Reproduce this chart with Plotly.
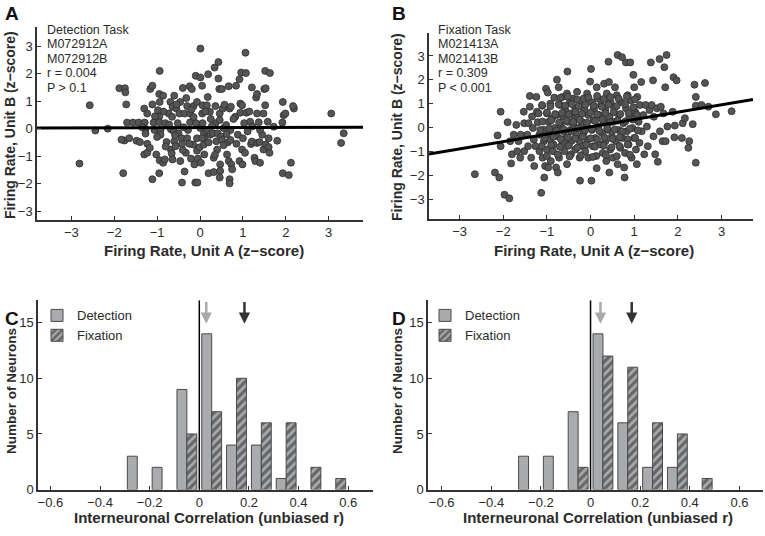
import plotly.graph_objects as go

# ---- panel A: detection task, unit pair M072912A/B ----
a_x = [-2.57, -2.81, -2.44, -2.15, -1.88, -1.75, -1.74, -1.72, -1.79, -1.70, -1.76, -1.65, -1.56, -1.43,
       -1.48, -1.40, -1.30, -1.29, -1.27, -1.27, -1.30, -1.23, -1.11, -1.16, -1.11, -1.23, -1.11, -1.23,
       -1.17, -1.08, -1.06, -1.02, -0.94, -0.95, -0.86, -0.94, -0.98, -0.95, -0.95, -0.92, -0.92, -0.94,
       -0.95, -0.86, -0.82, -0.81, -0.78, -0.69, -0.73, -0.64, -0.65, -0.68, -0.68, -0.66, -0.64, -0.61,
       -0.60, -0.57, -0.55, -0.52, -0.50, -0.48, -0.46, -0.46, -0.43, -0.42, -0.40, -0.42, -0.36, -0.36,
       -0.32, -0.30, -0.33, -0.30, -0.28, -0.24, -0.23, -0.23, -0.21, -0.19, -0.16, -0.15, -0.13, -0.11,
       -0.06, -0.10, -0.07, -0.09, -0.07, -0.07, -0.05, -0.01, 0.01, 0.01, 0.01, 0.02, 0.05, 0.06,
       0.05, 0.06, 0.09, 0.09, 0.10, 0.10, 0.16, 0.16, 0.19, 0.20, 0.20, 0.23, 0.24, 0.30,
       0.32, 0.32, 0.34, 0.36, 0.36, 0.38, 0.40, 0.41, 0.43, 0.43, 0.45, 0.46, 0.46, 0.47,
       0.47, 0.46, 0.49, 0.51, 0.53, 0.51, 0.55, 0.57, 0.61, 0.63, 0.65, 0.67, 0.69, 0.71,
       0.71, 0.67, 0.69, 0.69, 0.73, 0.75, 0.82, 0.84, 0.88, 0.92, 0.92, 0.94, 0.94, 0.98,
       0.96, 0.98, 0.99, 1.03, 1.06, 1.07, 1.08, 1.05, 1.11, 1.17, 1.19, 1.21, 1.21, 1.27,
       1.29, 1.31, 1.33, 1.33, 1.33, 1.37, 1.40, 1.39, 1.45, 1.48, 1.48, 1.50, 1.52, 1.52,
       1.53, 1.53, 1.58, 1.60, 1.62, 1.63, 1.72, 1.80, 1.92, 1.93, 1.93, 1.95, 1.99, 2.07,
       2.12, 2.19, 2.17, 3.06, 3.29, 3.35, -1.83,
       -1.05, -0.85, -0.72, -0.58, -0.38, -0.15, 0.12, 0.28, 0.55, 0.78, 1.00, 1.22, -1.00, -0.80,
       -0.40, -0.20, 0.25, 0.62, 0.85, 1.15, 1.40, -0.55, 0.35, 0.05, -0.25, 0.72, -1.35, 1.60,
       0.18, -0.60]
a_y = [0.85, -1.27, -0.07, 0.00, 1.47, 1.47, 1.32, 0.88, -1.62, 0.22, -0.43, -0.35, 0.22, 0.22,
       -0.44, -0.49, 0.73, 0.22, -0.02, -0.18, -0.94, -0.88, -1.84, 1.44, 1.56, 0.55, 0.88, -0.55,
       -0.70, 0.22, -0.05, -0.94, 2.10, 1.26, 1.20, 0.97, 0.67, 0.43, 0.23, -0.05, -0.22, -1.15,
       -1.62, -1.24, -1.12, 0.20, -0.49, 0.97, 0.55, 0.79, 0.43, -0.02, -0.76, -0.90, -1.12, -0.10,
       -0.46, -0.64, 0.73, 0.20, -0.17, 0.55, 0.97, -1.18, -0.35, -0.56, 1.48, -1.96, -1.56, 0.55,
       1.11, 0.82, -0.88, -0.35, -0.05, 1.54, 0.23, 0.55, -1.09, 1.44, -0.58, 0.82, -1.30, -1.96,
       -1.96, 1.92, 0.97, 0.20, -0.35, -0.80, -1.09, -0.68, 2.91, 1.86, 0.02, -1.24, 1.56, 0.85,
       0.55, 0.20, -0.17, -0.58, -0.35, -0.94, 0.85, -0.05, 1.98, -1.62, -0.50, 0.61, -0.22, -0.17,
       -1.06, -1.58, 2.22, 0.82, 0.20, -0.46, -0.76, -0.17, 2.42, 1.82, 1.44, 0.55, 0.31, -1.30,
       -1.54, -1.78, -0.29, -0.41, 0.73, 1.44, 0.02, 0.87, 0.13, -0.94, -0.50, 1.54, 0.73, -0.05,
       -0.41, -1.18, -1.84, -1.99, -1.30, -1.48, 0.43, 1.56, -0.22, 1.80, -1.18, 0.91, 0.58, -0.76,
       2.04, 0.85, -1.30, 0.20, 2.76, 2.02, 0.58, -0.88, -0.10, 0.25, -0.56, -0.47, 1.50, -1.06,
       -1.18, 1.13, 1.26, 0.55, -0.52, 0.23, -1.24, -0.49, -0.22, 0.55, -0.76, 1.44, 2.10, 0.85,
       1.47, -0.58, 0.25, -0.67, -0.88, 2.02, 0.07, -0.44, 0.22, 0.97, -1.62, 0.49, 0.55, -1.69,
       -1.24, 0.73, 0.82, 0.55, -0.52, -0.17, -0.40,
       0.45, 0.62, 0.15, -0.25, 0.05, 0.42, 0.62, 0.10, -0.60, 0.35, -0.35, 0.08, -0.30, -0.65,
       -0.78, 0.70, 0.35, -0.20, -0.55, 0.62, -0.05, 0.88, -0.95, -0.35, -0.55, 0.80, 0.05, -0.35,
       1.15, 1.20]
a_fit_x = [-3.8, 3.8]
a_fit_y = [0.02, 0.05]

# ---- panel B: fixation task, unit pair M021413A/B ----
b_x = [-2.65, -2.19, -2.13, -2.09, -2.06, -2.06, -1.97, -1.86, -1.90, -1.84, -1.82, -1.80, -1.76, -1.70,
       -1.68, -1.65, -1.61, -1.60, -1.53, -1.52, -1.52, -1.45, -1.43, -1.42, -1.39, -1.39, -1.36, -1.34,
       -1.32, -1.30, -1.29, -1.26, -1.24, -1.23, -1.21, -1.17, -1.17, -1.13, -1.11, -1.10, -1.07, -1.07,
       -1.06, -1.04, -1.02, -1.00, -1.00, -0.98, -0.97, -0.96, -0.94, -0.92, -0.92, -0.91, -0.88, -0.86,
       -0.85, -0.83, -0.83, -0.79, -0.78, -0.77, -0.77, -0.75, -0.73, -0.72, -0.69, -0.68, -0.65, -0.64,
       -0.63, -0.62, -0.60, -0.58, -0.56, -0.54, -0.54, -0.53, -0.52, -0.50, -0.48, -0.46, -0.45, -0.45,
       -0.43, -0.40, -0.39, -0.37, -0.35, -0.35, -0.33, -0.31, -0.30, -0.27, -0.25, -0.25, -0.24, -0.21,
       -0.20, -0.18, -0.16, -0.16, -0.14, -0.12, -0.10, -0.08, -0.07, -0.05, -0.05, -0.01, 0.01, 0.01,
       0.02, 0.03, 0.05, 0.07, 0.08, 0.11, 0.13, 0.14, 0.14, 0.16, 0.18, 0.20, 0.22, 0.24,
       0.26, 0.28, 0.30, 0.31, 0.34, 0.34, 0.36, 0.37, 0.40, 0.41, 0.42, 0.43, 0.43, 0.45,
       0.46, 0.49, 0.51, 0.53, 0.54, 0.56, 0.58, 0.60, 0.62, 0.62, 0.64, 0.65, 0.68, 0.72,
       0.70, 0.73, 0.75, 0.77, 0.78, 0.79, 0.81, 0.81, 0.83, 0.85, 0.87, 0.89, 0.91, 0.92,
       0.94, 0.96, 0.98, 1.00, 1.00, 1.02, 1.04, 1.06, 1.07, 1.10, 1.12, 1.13, 1.16, 1.17,
       1.21, 1.23, 1.26, 1.29, 1.31, 1.35, 1.38, 1.40, 1.43, 1.44, 1.45, 1.48, 1.52, 1.54,
       1.58, 1.59, 1.61, 1.65, 1.67, 1.69, 1.71, 1.72, 1.74, 1.76, 1.88, 1.90, 1.92, 1.93,
       1.97, 2.09, 2.11, 2.16, 2.24, 2.26, 2.34, 2.38, 2.41, 2.41, 2.41, 2.54, 2.62, 2.70,
       2.87, 3.23,
       -0.69, -0.52, -0.31, -0.05, 0.15, 0.30, 0.45, 0.64, 0.83, 1.02,
       -1.11, -0.92, -0.73, -0.58, -0.43, -0.27, -0.12, 0.07, 0.26, 0.41, 0.60, 0.79, 0.98,
       -1.19, -1.00, -0.81, -0.65, -0.50, -0.35, -0.20, -0.01, 0.15, 0.34, 0.53, 0.68, 0.87, 1.06,
       -1.10, -0.90, -0.72, -0.55, -0.40, -0.25, -0.08, 0.10, 0.27, 0.45, 0.62, 0.80, 0.97,
       -1.15, -0.95, -0.78, -0.62, -0.45, -0.28, -0.13, 0.03, 0.20, 0.38, 0.55, 0.72, 0.90, 1.08,
       -1.05, -0.85, -0.68, -0.52, -0.35, -0.18, 0.00, 0.15, 0.32, 0.50, 0.67, 0.85, 1.02,
       -1.12, -0.90, -0.70, -0.50, -0.30, -0.10, 0.10, 0.30, 0.48, 0.66, 0.85,
       -1.00, -0.75, -0.48, -0.22, 0.05, 0.35, 0.60, 0.90]
b_y = [-1.94, -1.87, -0.32, -2.08, 0.67, -0.77, -2.80, -2.95, 0.23, -0.56, -1.49, -1.11, -0.29, 0.12,
       -0.98, -0.56, -1.25, -0.29, 0.67, 0.19, -0.98, -0.29, -0.77, 0.19, 1.33, 0.88, -1.25, 0.47,
       -0.01, -0.50, -1.60, -0.77, 1.29, 0.67, 0.23, -0.29, -0.98, -2.72, 0.92, -1.25, -0.09, -0.56,
       -2.08, -1.60, 1.63, 0.60, -0.91, 1.47, -1.66, 0.25, -0.22, 1.01, -0.50, -1.39, 0.40, -0.98,
       -0.70, 1.26, -0.01, -1.66, 0.53, 2.01, -0.36, -1.87, 1.69, -1.25, 0.95, 0.12, -0.70, 1.29,
       0.47, -0.15, -0.98, 0.74, -0.43, 1.43, -1.52, 2.35, 0.25, -0.70, 1.05, -0.09, 0.60, -1.11,
       -0.54, 1.22, 0.12, 0.40, 0.81, -0.91, -0.29, 1.50, 0.53, -0.01, -0.56, -1.25, -2.21, 0.95,
       0.25, -0.77, 1.22, -0.22, 0.74, -0.98, 0.05, 1.43, -0.50, 0.53, -1.25, 1.93, 2.46, 1.08,
       -2.21, -0.09, -0.77, 0.32, 0.81, -0.43, -1.18, 1.69, -1.69, 1.22, 0.05, 0.53, -0.70, 0.95,
       -0.22, -1.05, 0.25, 1.84, 0.74, -0.56, -1.39, 1.43, -0.09, 2.76, 1.91, 0.46, -1.87, -0.91,
       1.08, -0.36, -1.25, 0.25, 0.81, 1.69, -0.56, 1.36, -1.52, 3.04, -0.09, 0.53, -0.84, 2.95,
       1.08, -0.43, 0.19, -1.66, -2.08, -1.05, 2.73, 0.81, -0.15, 1.36, -0.70, 0.46, 2.73, 1.15,
       -1.25, -0.01, 2.21, 1.69, -0.43, 0.67, -0.91, -1.52, 1.29, 0.25, -0.63, 0.95, 1.91, -0.15,
       0.53, -1.11, 0.95, 0.05, -0.77, 0.74, 2.73, 0.95, 1.98, -0.36, 0.46, -1.11, 0.81, -1.42,
       2.87, -0.15, 0.88, -0.56, 0.60, 2.53, 1.69, -0.56, 3.04, 0.05, 0.67, 2.11, -0.40, 0.09,
       1.98, -0.43, 0.19, 0.40, -0.84, -0.56, 0.15, 1.80, 1.29, 0.92, -1.46, 0.95, 1.87, 0.88,
       0.56, 0.69,
       1.25, 1.30, 1.18, 1.27, 1.33, 1.20, 1.28, 1.22, 1.31, 1.19,
       0.95, 0.90, 0.98, 0.92, 0.99, 0.89, 0.96, 0.93, 0.88, 0.97, 0.91, 0.99, 0.86,
       0.60, 0.64, 0.57, 0.62, 0.55, 0.66, 0.58, 0.63, 0.56, 0.61, 0.65, 0.57, 0.62, 0.54,
       0.26, 0.31, 0.22, 0.29, 0.24, 0.33, 0.21, 0.28, 0.35, 0.23, 0.30, 0.27, 0.34,
       -0.09, -0.04, -0.12, -0.06, -0.14, -0.03, -0.10, -0.05, -0.13, -0.02, -0.08, -0.15, -0.04, -0.11,
       -0.43, -0.38, -0.47, -0.40, -0.45, -0.37, -0.44, -0.49, -0.41, -0.46, -0.39, -0.48, -0.42,
       -0.77, -0.72, -0.80, -0.75, -0.83, -0.71, -0.79, -0.74, -0.82, -0.76, -0.70,
       -1.18, -1.12, -1.20, -1.15, -1.22, -1.14, -1.19, -1.13]
b_fit_x = [-3.7, 3.72]
b_fit_y = [-1.10, 1.18]

# ---- panels C, D: histograms of interneuronal correlation ----
bins = [-0.25, -0.15, -0.05, 0.05, 0.15, 0.25, 0.35, 0.45, 0.55]
c_det = [3, 2, 9, 14, 4, 4, 1, 0, 0]
c_fix = [0, 0, 5, 7, 10, 6, 6, 2, 1]
d_det = [3, 3, 7, 14, 6, 2, 2, 0, 0]
d_fix = [0, 0, 2, 12, 11, 6, 5, 1, 0]
c_means = [0.028, 0.182]
d_means = [0.040, 0.166]

FONT = "Liberation Sans, Arial, sans-serif"
TXT = "#2b2b2b"
GRAY = "#a9abae"
W, H = 765, 536


def px(x):
    return x / W


def py(y):
    return 1 - y / H


def nz(v):
    return [None if n == 0 else n for n in v]


fig = go.Figure()

dot = dict(size=7, color="#555555", line=dict(color="#2e2e2e", width=0.8))
fig.add_trace(go.Scatter(x=a_x, y=a_y, mode="markers", marker=dot, showlegend=False, xaxis="x", yaxis="y"))
fig.add_trace(go.Scatter(x=a_fit_x, y=a_fit_y, mode="lines", line=dict(color="black", width=3),
                         showlegend=False, xaxis="x", yaxis="y"))
fig.add_trace(go.Scatter(x=b_x, y=b_y, mode="markers", marker=dot, showlegend=False, xaxis="x2", yaxis="y2"))
fig.add_trace(go.Scatter(x=b_fit_x, y=b_fit_y, mode="lines", line=dict(color="black", width=3),
                         showlegend=False, xaxis="x2", yaxis="y2"))

hatch = dict(shape="/", fgcolor="#232323", bgcolor=GRAY, size=6, solidity=0.55)
for det, fix, xa, ya, lg in [(c_det, c_fix, "x3", "y3", "legend"), (d_det, d_fix, "x4", "y4", "legend2")]:
    fig.add_trace(go.Bar(x=bins, y=nz(det), name="Detection", xaxis=xa, yaxis=ya, legend=lg,
                         marker=dict(color=GRAY, line=dict(color="#4a4a4a", width=1))))
    fig.add_trace(go.Bar(x=bins, y=nz(fix), name="Fixation", xaxis=xa, yaxis=ya, legend=lg,
                         marker=dict(color=GRAY, pattern=hatch, line=dict(color="#4a4a4a", width=1))))

axis_common = dict(showline=True, linecolor="#333333", linewidth=1.5, ticks="inside", ticklen=4,
                   tickcolor="#333333", showgrid=False, zeroline=False,
                   tickfont=dict(family=FONT, size=13, color=TXT))

z_ticks = [-3, -2, -1, 0, 1, 2, 3]
r_ticks = [-0.6, -0.4, -0.2, 0, 0.2, 0.4, 0.6]
r_text = ["−0.6", "−0.4", "−0.2", "0", "0.2", "0.4", "0.6"]

fig.update_layout(
    width=W, height=H, margin=dict(l=0, r=0, t=0, b=0),
    paper_bgcolor="white", plot_bgcolor="white",
    barmode="group", bargap=0.2, bargroupgap=0,
    font=dict(family=FONT, color=TXT),
    xaxis=dict(domain=[px(37), px(363)], range=[-3.8, 3.8], tickvals=z_ticks, anchor="y", **axis_common),
    yaxis=dict(domain=[py(223), py(27)], range=[-3.31, 3.71], tickvals=z_ticks, anchor="x", **axis_common),
    xaxis2=dict(domain=[px(429), px(753)], range=[-3.7, 3.72], tickvals=z_ticks, anchor="y2", **axis_common),
    yaxis2=dict(domain=[py(222), py(33)], range=[-3.8, 3.98], tickvals=z_ticks, anchor="x2", **axis_common),
    xaxis3=dict(domain=[px(38), px(373)], range=[-0.65, 0.7], tickvals=r_ticks, ticktext=r_text,
                anchor="y3", **axis_common),
    yaxis3=dict(domain=[py(497), py(305)], range=[0, 17], tickvals=[0, 5, 10, 15], anchor="x3", **axis_common),
    xaxis4=dict(domain=[px(428), px(763)], range=[-0.655, 0.695], tickvals=r_ticks, ticktext=r_text,
                anchor="y4", **axis_common),
    yaxis4=dict(domain=[py(497), py(305)], range=[0, 17], tickvals=[0, 5, 10, 15], anchor="x4", **axis_common),
    legend=dict(x=px(37), y=py(305), xanchor="left", yanchor="top", bgcolor="rgba(0,0,0,0)",
                font=dict(family=FONT, size=13, color=TXT), tracegroupgap=0, itemwidth=30),
    legend2=dict(x=px(425), y=py(305), xanchor="left", yanchor="top", bgcolor="rgba(0,0,0,0)",
                 font=dict(family=FONT, size=13, color=TXT), tracegroupgap=0, itemwidth=30),
)

# zero lines in the histograms
for xa, ya in [("x3", "y3"), ("x4", "y4")]:
    fig.add_shape(type="line", xref=xa, yref=ya + " domain", x0=0, x1=0, y0=0, y1=1,
                  line=dict(color="black", width=1.5))

# mean arrows
for means, xa, ya in [(c_means, "x3", "y3"), (d_means, "x4", "y4")]:
    for m, col in zip(means, ["#a9a9a9", "#333333"]):
        fig.add_annotation(x=m, y=14.9, ax=m, ay=17, xref=xa, yref=ya, axref=xa, ayref=ya,
                           showarrow=True, arrowhead=2, arrowsize=0.9, arrowwidth=2.5,
                           arrowcolor=col, text="")

ann = []
# panel letters
for t, x, y in [("A", 3, 1), ("B", 390, 1), ("C", 3, 311), ("D", 390, 311)]:
    ann.append(dict(text="<b>" + t + "</b>", x=px(x), y=py(y), xanchor="left", yanchor="top",
                    font=dict(size=19, color="#111111")))

# stats text
stat_a = ["Detection Task", "M072912A", "M072912B", "r = 0.004", "P > 0.1"]
stat_b = ["Fixation Task", "M021413A", "M021413B", "r = 0.309", "P < 0.001"]
for lines, x0 in [(stat_a, 45), (stat_b, 436)]:
    for i, s in enumerate(lines):
        ann.append(dict(text=s, x=px(x0), y=py(30 + 14.8 * i), xanchor="left", yanchor="middle",
                        font=dict(size=12.5, color=TXT)))

# axis titles
xt_z = "<b>Firing Rate, Unit A (z−score)</b>"
yt_z = "<b>Firing Rate, Unit B (z−score)</b>"
xt_r = "<b>Interneuronal Correlation (unbiased r)</b>"
yt_r = "<b>Number of Neurons</b>"
for t, x, y, ang, fs in [(xt_z, 204, 254, 0, 15), (xt_z, 594, 254, 0, 15),
                         (yt_z, 10, 127, -90, 14), (yt_z, 397, 129, -90, 14),
                         (xt_r, 209, 525, 0, 15), (xt_r, 598, 525, 0, 15),
                         (yt_r, 11, 397, -90, 13.5), (yt_r, 397, 397, -90, 13.5)]:
    ann.append(dict(text=t, x=px(x), y=py(y), xanchor="center", yanchor="middle", textangle=ang,
                    font=dict(size=fs, color=TXT)))

for a in ann:
    a.update(xref="paper", yref="paper", showarrow=False)
    fig.add_annotation(**a)

# the page body has a default 8px margin; drop it so the figure fills the window
fig.write_html("out.html", config={"displayModeBar": False},
               post_script="document.body.style.margin='0';document.body.style.overflow='hidden';")
